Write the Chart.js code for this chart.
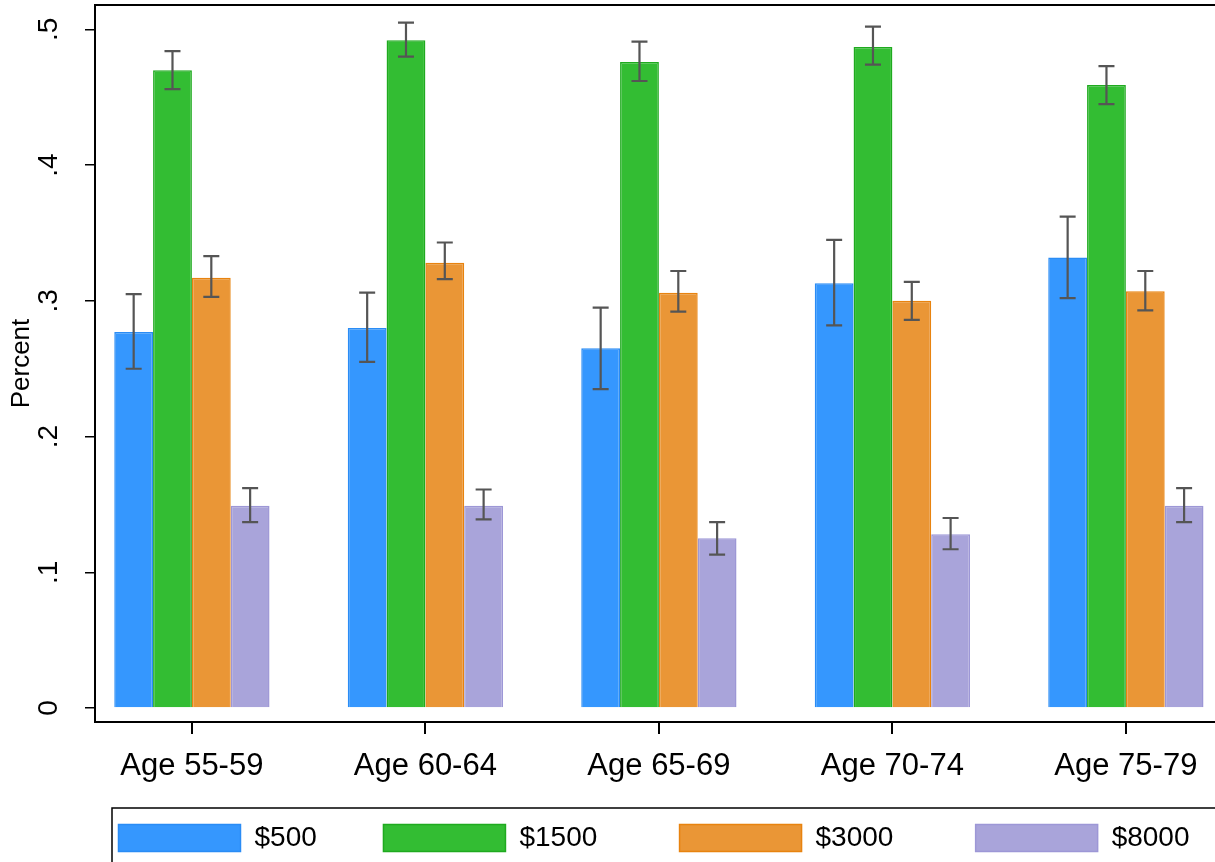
<!DOCTYPE html>
<html>
<head>
<meta charset="utf-8">
<script src="https://cdn.jsdelivr.net/npm/chart.js@4"></script>
<style>
  html, body { margin: 0; padding: 0; overflow: hidden; background: #fff; }
  #wrap { width: 1308px; height: 862px; }
</style>
</head>
<body>
<div id="wrap"><canvas id="chart"></canvas></div>
<script>
const groups = ['Age 55-59', 'Age 60-64', 'Age 65-69', 'Age 70-74', 'Age 75-79']
const seriesNames = ['$500', '$1500', '$3000', '$8000']
const yTicks = [0, 0.1, 0.2, 0.3, 0.4, 0.5]

const val500 = [0.277, 0.280, 0.265, 0.313, 0.332]
const lo500 = [0.250, 0.255, 0.235, 0.282, 0.302]
const hi500 = [0.305, 0.306, 0.295, 0.345, 0.362]

const val1500 = [0.470, 0.492, 0.476, 0.487, 0.459]
const lo1500 = [0.456, 0.480, 0.462, 0.474, 0.445]
const hi1500 = [0.484, 0.505, 0.491, 0.502, 0.473]

const val3000 = [0.317, 0.328, 0.306, 0.300, 0.307]
const lo3000 = [0.303, 0.316, 0.292, 0.286, 0.293]
const hi3000 = [0.333, 0.343, 0.322, 0.314, 0.322]

const val8000 = [0.149, 0.149, 0.125, 0.128, 0.149]
const lo8000 = [0.137, 0.139, 0.113, 0.117, 0.137]
const hi8000 = [0.162, 0.161, 0.137, 0.140, 0.162]

const values = [val500, val1500, val3000, val8000]
const lows = [lo500, lo1500, lo3000, lo8000]
const highs = [hi500, hi1500, hi3000, hi8000]
const fills = ['#3597fe', '#33bd33', '#ea9636', '#a9a4da']
const borders = ['#2a8cf5', '#1faa1f', '#e8830f', '#9d97d6']

const FONT = 'Arial, "Liberation Sans", sans-serif'

const datasets = values.map((vals, s) => ({
    label: seriesNames[s],
    data: vals.map((v, i) => ({ x: i, y: v })),
    backgroundColor: fills[s],
    borderColor: borders[s],
    borderWidth: 1.5,
    categoryPercentage: 0.665,
    barPercentage: 1,
}))

// error bars, rotated y labels, frame and legend box
const extras = {
    id: 'extras',
    afterDatasetsDraw(chart) {
        const ctx = chart.ctx
        const y = chart.scales.y
        ctx.save()
        ctx.strokeStyle = '#555'
        ctx.lineWidth = 2.2
        values.forEach((vals, s) => {
            const meta = chart.getDatasetMeta(s)
            meta.data.forEach((bar, i) => {
                const top = y.getPixelForValue(highs[s][i])
                const bot = y.getPixelForValue(lows[s][i])
                ctx.beginPath()
                ctx.moveTo(bar.x, top); ctx.lineTo(bar.x, bot)
                ctx.moveTo(bar.x - 8, top); ctx.lineTo(bar.x + 8, top)
                ctx.moveTo(bar.x - 8, bot); ctx.lineTo(bar.x + 8, bot)
                ctx.stroke()
            })
        })
        ctx.restore()
    },
    afterDraw(chart) {
        const ctx = chart.ctx
        const a = chart.chartArea
        const y = chart.scales.y
        ctx.save()
        ctx.strokeStyle = '#000'
        ctx.lineWidth = 2
        ctx.strokeRect(a.left, a.top, a.right - a.left, a.bottom - a.top)
        ctx.fillStyle = '#000'
        ctx.font = '28px ' + FONT
        ctx.textAlign = 'center'
        ctx.textBaseline = 'middle'
        yTicks.forEach(t => {
            const py = y.getPixelForValue(t)
            ctx.save()
            ctx.translate(a.left - 46, py)
            ctx.rotate(-Math.PI / 2)
            ctx.fillText(t === 0 ? '0' : String(t).replace('0.', '.'), 0, 0)
            ctx.restore()
        })
        ctx.lineWidth = 1.5
        ctx.strokeRect(112, 808, 1300, 80)
        ctx.restore()
    },
}

const legendGap = [6, 8, 8, 0]

new Chart(document.getElementById('chart'), {
    type: 'bar',
    data: { datasets: datasets },
    options: {
        responsive: true,
        maintainAspectRatio: false,
        animation: false,
        layout: { padding: { top: 5, left: 0, right: 0, bottom: 0 } },
        scales: {
            x: {
                type: 'linear',
                offset: false,
                min: -0.415,
                max: 4.78,
                afterBuildTicks: scale => { scale.ticks = groups.map((g, i) => ({ value: i })) },
                afterFit: scale => { scale.height = 82 },
                ticks: {
                    callback: v => groups[v],
                    color: '#000',
                    font: { size: 31, family: FONT },
                    padding: 14,
                    maxRotation: 0,
                    autoSkip: false,
                },
                grid: { offset: false, drawOnChartArea: false, drawTicks: true, tickLength: 12, color: '#000', lineWidth: 2 },
                border: { color: '#000', width: 2 },
            },
            y: {
                min: -0.0103,
                max: 0.518,
                afterBuildTicks: scale => { scale.ticks = yTicks.map(v => ({ value: v })) },
                afterFit: scale => { scale.width = 95 },
                ticks: { display: false },
                grid: { drawOnChartArea: false, drawTicks: true, tickLength: 10, color: '#000', lineWidth: 1.5 },
                border: { color: '#000', width: 2 },
                title: { display: true, text: 'Percent', color: '#000', font: { size: 26, family: FONT }, padding: { top: 6, bottom: 0 } },
            },
        },
        plugins: {
            legend: {
                position: 'bottom',
                labels: {
                    boxWidth: 122,
                    boxHeight: 27,
                    padding: 20,
                    color: '#000',
                    font: { size: 28, family: FONT },
                    generateLabels: chart => Chart.defaults.plugins.legend.labels.generateLabels(chart)
                        .map((l, i) => Object.assign(l, { text: l.text + '\u00a0'.repeat(legendGap[i]) })),
                },
            },
            tooltip: { enabled: false },
        },
    },
    plugins: [extras],
})
</script>
</body>
</html>
